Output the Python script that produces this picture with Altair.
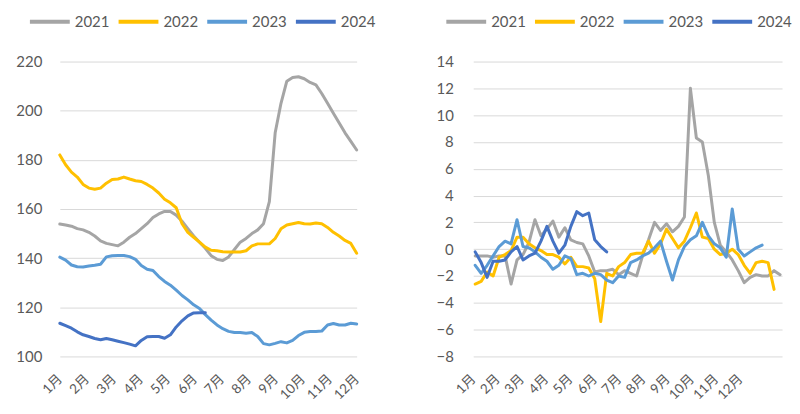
import altair as alt
import pandas as pd

years = ["2021", "2022", "2023", "2024"]
colors = ["#A5A5A5", "#FFC000", "#5B9BD5", "#4472C4"]
months = ["1月", "2月", "3月", "4月", "5月", "6月", "7月", "8月", "9月", "10月", "11月", "12月"]

# Left panel: weekly level
level_2021 = [153.9, 153.5, 153.0, 152.0, 151.5, 150.5, 149.0, 147.0, 146.0, 145.5,
              145.0, 146.5, 148.5, 150.0, 152.0, 154.0, 156.5, 158.0, 159.0, 159.0,
              157.5, 155.0, 152.0, 149.0, 146.5, 144.0, 141.0, 139.5, 139.0, 140.5,
              143.5, 146.5, 148.0, 150.0, 151.5, 154.0, 163.0, 191.0, 203.0, 212.0,
              213.5, 213.8, 213.0, 211.5, 210.5, 207.0, 203.0, 199.0, 195.0, 191.0,
              187.5, 184.0]
level_2022 = [182.0, 178.0, 175.0, 173.0, 170.0, 168.5, 168.0, 168.5, 170.5, 172.0,
              172.2, 173.0, 172.2, 171.5, 171.2, 170.0, 168.5, 166.5, 164.0, 162.5,
              160.5, 154.0, 150.5, 148.5, 146.5, 144.5, 143.2, 143.0, 142.6, 142.5,
              142.5, 142.5, 143.0, 145.0, 145.8, 145.8, 145.8, 148.0, 152.0, 153.5,
              154.0, 154.5, 154.0, 153.9, 154.3, 154.0, 152.5, 150.5, 149.0, 147.2,
              146.0, 142.0]
level_2023 = [140.4, 139.2, 137.2, 136.5, 136.4, 136.8, 137.1, 137.5, 140.5, 141.0,
              141.1, 141.1, 140.6, 139.5, 137.0, 135.5, 135.0, 132.5, 130.5, 129.0,
              127.0, 124.8, 123.0, 121.0, 119.5, 117.0, 114.8, 112.8, 111.3, 110.2,
              109.7, 109.7, 109.4, 109.7, 108.1, 105.2, 104.7, 105.3, 106.0, 105.5,
              106.5, 108.5, 109.8, 110.1, 110.1, 110.3, 112.8, 113.4, 112.8, 112.8,
              113.5, 113.2]
level_2024 = [113.5, 112.5, 111.5, 110.0, 108.8, 108.1, 107.3, 106.8, 107.3, 106.8,
              106.2, 105.6, 105.0, 104.3, 106.5, 108.0, 108.1, 108.1, 107.4, 108.8,
              112.0, 114.5, 116.5, 117.7, 117.8, 117.8]

# Right panel: weekly change
change_2021 = [-0.5, -0.5, -0.5, -0.6, -0.5, -0.5, -2.6, -0.8, -0.4, 0.5,
               2.2, 1.0, 1.5, 2.1, 0.9, 1.6, 0.7, 0.5, 0.4, -0.5,
               -1.7, -1.6, -1.6, -1.5, -1.9, -1.6, -1.8, -2.0, -0.5, 0.7,
               2.0, 1.4, 1.9, 1.3, 1.7, 2.4, 12.0, 8.3, 8.0, 5.5,
               2.0, 0.3, -0.2, -0.8, -1.6, -2.5, -2.1, -1.9, -2.0, -2.0,
               -1.6, -1.9]
change_2022 = [-2.6, -2.4, -1.7, -2.0, -0.6, -0.4, -0.1, 0.9, 0.9, 0.4,
               0.1, -0.1, -0.4, -0.4, -0.6, -1.1, -0.6, -1.3, -1.3, -1.4,
               -2.2, -5.4, -1.8, -2.0, -1.3, -1.0, -0.4, -0.3, -0.3, 0.6,
               -0.3, 0.4, 1.5, 0.8, 0.1, 0.6, 1.6, 2.7, 0.9, 0.8,
               0.0, -0.4, -0.3, 0.0, -0.4, -1.2, -1.8, -1.0, -0.9, -1.0,
               -3.0]
change_2023 = [-1.2, -1.8, -1.2, -0.5, 0.2, 0.6, 0.4, 2.2, 0.2, 0.1,
               -0.2, -0.6, -0.9, -1.5, -1.2, -0.5, -0.7, -1.9, -1.8, -2.0,
               -1.8, -1.9, -2.3, -2.5, -2.0, -2.1, -1.0, -0.8, -0.5, -0.3,
               0.1, 0.6, -0.9, -2.3, -0.8, 0.2, 0.7, 1.0, 2.0, 1.0,
               0.4, 0.1, -0.6, 3.0, 0.0, -0.5, -0.2, 0.1, 0.3]
change_2024 = [-0.2, -1.0, -2.1, -0.9, -0.9, -0.8, -0.2, 0.2, -0.8, -0.5,
               -0.3, 0.6, 1.7, 0.6, -0.3, 0.3, 1.7, 2.8, 2.5, 2.7,
               0.7, 0.2, -0.2]


def to_long(series):
    rows = []
    for y, vals in zip(years, series):
        for i, v in enumerate(vals):
            rows.append({"year": y, "week": i, "value": v})
    return pd.DataFrame(rows)


left_df = to_long([level_2021, level_2022, level_2023, level_2024])
right_df = to_long([change_2021, change_2022, change_2023, change_2024])

month_arr = "[" + ",".join("'%s'" % m for m in months) + "]"
FONT = "Lato, Noto Sans CJK SC"
TXT = "#595959"


def color_enc(lx, ly):
    return alt.Color(
        "year:N",
        scale=alt.Scale(domain=years, range=colors),
        legend=alt.Legend(
            orient="none", legendX=lx, legendY=ly, direction="horizontal",
            title=None, symbolType="M-1,0L1,0", symbolSize=1600, symbolStrokeWidth=4,
            labelFontSize=15, labelFont=FONT, labelColor=TXT, labelOffset=3,
            columnPadding=1,
        ),
    )


def x_axis(step, offset):
    return alt.Axis(
        values=[offset + k * step for k in range(12)], title=None, grid=False,
        labelAngle=-45, labelAlign="right", labelBaseline="middle", labelPadding=20,
        labelFontSize=13.5, labelOverlap=False, labelBound=False,
        labelExpr=month_arr + "[round((datum.value-(%f))/%f)]" % (offset, step),
    )


left_step = 51 / 11
left = alt.Chart(left_df).mark_line(strokeWidth=3, strokeJoin="round", strokeCap="round").encode(
    x=alt.X("week:Q", scale=alt.Scale(domain=[0, 51], nice=False, zero=False),
            axis=x_axis(left_step, 0.0)),
    y=alt.Y("value:Q", scale=alt.Scale(domain=[100, 220], nice=False, zero=False),
            axis=alt.Axis(values=list(range(100, 221, 20)), title=None, grid=True, labelPadding=18)),
    color=color_enc(-32, -62),
    order="week:Q",
).properties(width=298, height=296)

right = alt.Chart(right_df).mark_line(strokeWidth=3, strokeJoin="round", strokeCap="round").encode(
    x=alt.X("week:Q", scale=alt.Scale(domain=[-0.33, 51.33], nice=False, zero=False),
            axis=x_axis(4.06, -0.33)),
    y=alt.Y("value:Q", scale=alt.Scale(domain=[-8, 14], nice=False, zero=False),
            axis=alt.Axis(values=list(range(-8, 15, 2)), title=None, grid=True, labelPadding=20)),
    color=color_enc(-29, -62),
    order="week:Q",
).properties(width=310, height=296)

chart = alt.hconcat(left, right, spacing=60).resolve_legend(color="independent").properties(
    padding={"left": 7, "top": -9, "right": 0, "bottom": 0}
).configure_axis(
    domain=False, ticks=False, labelFont=FONT, labelFontSize=15, labelColor=TXT,
    gridColor="#D9D9D9", gridWidth=1,
).configure_view(stroke=None)

chart.save("out.html", embed_options={"renderer": "svg", "actions": False})
